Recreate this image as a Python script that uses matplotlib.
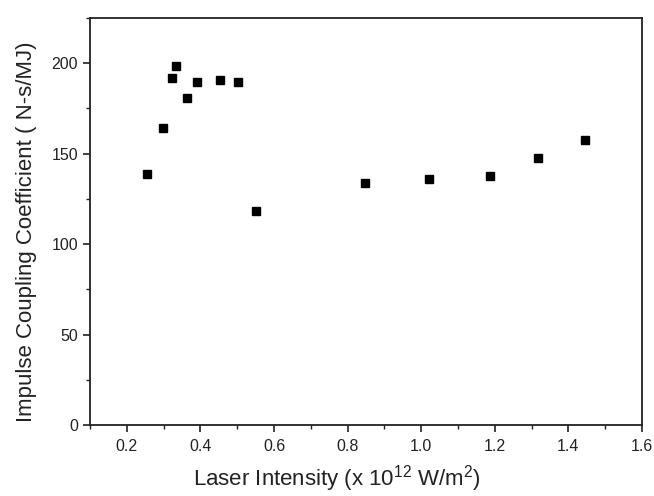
import matplotlib
matplotlib.use("Agg")
import matplotlib.pyplot as plt
from matplotlib.ticker import MultipleLocator

# data
intensity = [0.255, 0.298, 0.322, 0.333, 0.364, 0.390, 0.454, 0.503, 0.552,
             0.846, 1.021, 1.187, 1.316, 1.444]
coupling = [138.5, 164.4, 191.7, 198.7, 180.7, 189.8, 190.9, 189.8, 118.2,
            134.0, 135.9, 137.8, 147.4, 157.6]
xtick_vals = [0.2, 0.4, 0.6, 0.8, 1.0, 1.2, 1.4, 1.6]
xtick_text = ['0.2', '0.4', '0.6', '0.8', '1.0', '1.2', '1.4', '1.6']

plt.rcParams['font.family'] = ['Liberation Sans', 'DejaVu Sans']
plt.rcParams['mathtext.fontset'] = 'custom'
plt.rcParams['mathtext.rm'] = 'Liberation Sans'
plt.rcParams['mathtext.default'] = 'rm'

fig = plt.figure(figsize=(6.54, 4.96), dpi=100)
ax = fig.add_axes([0.1376, 0.1431, 0.8441, 0.8206])

ax.plot(intensity, coupling, 's', color='black', markersize=6)

ax.set_xlim(0.1, 1.6)
ax.set_ylim(0, 225)
ax.set_xticks(xtick_vals)
ax.set_xticklabels(xtick_text)
ax.xaxis.set_minor_locator(MultipleLocator(0.1))
ax.yaxis.set_major_locator(MultipleLocator(50))
ax.yaxis.set_minor_locator(MultipleLocator(25))

ax.tick_params(which='major', direction='out', length=5, width=1.2,
               labelsize=11.5, top=False, right=False, colors='#222222')
ax.tick_params(axis='x', which='major', pad=5)
ax.tick_params(which='minor', direction='out', length=3, width=1.0,
               top=False, right=False, color='#222222')
for s in ax.spines.values():
    s.set_linewidth(1.3)
    s.set_color('#222222')

ax.set_xlabel('Laser Intensity (x 10$^{12}$ W/m$^{2}$)', fontsize=16, color='#222222')
ax.set_ylabel('Impulse Coupling Coefficient ( N-s/MJ)', fontsize=16, color='#222222')
ax.xaxis.set_label_coords(0.447, -0.094)
ax.yaxis.set_label_coords(-0.096, 0.474)

fig.savefig('out.png', dpi=100)
